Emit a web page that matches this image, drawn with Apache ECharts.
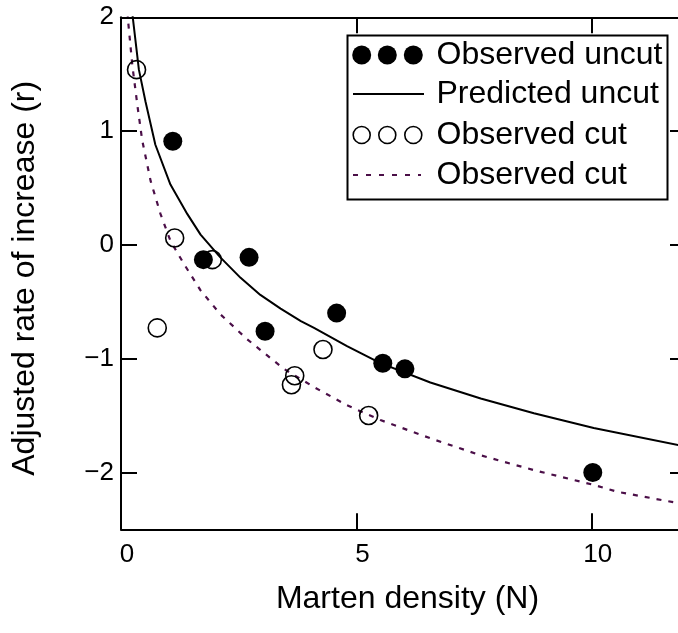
<!DOCTYPE html>
<html><head><meta charset="utf-8">
<script src="https://cdn.jsdelivr.net/npm/echarts@6/dist/echarts.min.js"></script>
<style>html,body{margin:0;padding:0;background:#fff;overflow:hidden}#c{width:678px;height:633px}</style>
</head><body><div id="c"></div>
<script>
const xTicks = [0, 5, 10];
const yTicks = [-2, -1, 0, 1, 2];
const xTitle = 'Marten density (N)';
const yTitle = 'Adjusted rate of increase (r)';
const seriesNames = ['Observed uncut', 'Predicted uncut', 'Observed cut', 'Observed cut'];
const uncutX = [1.10, 1.75, 2.72, 3.06, 4.58, 5.56, 6.03, 10.02];
const uncutY = [0.91, -0.13, -0.11, -0.76, -0.60, -1.04, -1.09, -2.00];
const cutX = [0.33, 0.77, 1.14, 1.94, 3.62, 3.69, 4.29, 5.26];
const cutY = [1.54, -0.73, 0.06, -0.13, -1.23, -1.15, -0.92, -1.50];
const predUncutX = [0.23, 0.25, 0.38, 0.52, 0.73, 1.05, 1.41, 1.69, 2.11, 2.54, 2.96, 3.39, 3.82, 4.10, 4.80, 5.51, 6.57, 7.64, 8.77, 10.04, 11.84, 12];
const predUncutY = [2.08, 2.00, 1.54, 1.26, 0.88, 0.53, 0.27, 0.09, -0.11, -0.29, -0.44, -0.56, -0.67, -0.73, -0.89, -1.04, -1.21, -1.35, -1.48, -1.61, -1.76, -1.78];
const predCutX = [0.14, 0.155, 0.24, 0.35, 0.45, 0.63, 0.84, 1.05, 1.34, 1.69, 2.11, 2.68, 3.46, 4.10, 4.80, 5.51, 6.57, 7.64, 8.77, 10.04, 10.54, 11.84, 12];
const predCutY = [2.05, 1.95, 1.58, 1.22, 0.92, 0.56, 0.27, 0.035, -0.17, -0.40, -0.61, -0.83, -1.09, -1.25, -1.41, -1.54, -1.70, -1.85, -1.98, -2.11, -2.17, -2.27, -2.28];

const FONT = '"Liberation Sans", Arial, Helvetica, sans-serif';
const DASH_COLOR = '#4b0f48';
const pair = (xs, ys) => xs.map((x, i) => [x, ys[i]]);
const fmt = v => String(v).replace('-', '\u2212');

const tick = (vals) => ({ show: true, inside: true, length: 16, lineStyle: { color: '#000', width: 2 }, customValues: vals });
const axLine = () => ({ show: true, onZero: false, lineStyle: { color: '#000', width: 2 } });

// legend (drawn as graphics)
const legendRowsY = [55, 94, 135, 175];
const legendCircleX = [361.7, 387.3, 413.3];
const legendGraphics = [
  { type: 'rect', z: 100, shape: { x: 347.5, y: 35.5, width: 320, height: 164 }, style: { fill: '#fff', stroke: '#000', lineWidth: 2 } }
];
legendCircleX.forEach(cx => {
  legendGraphics.push({ type: 'circle', z: 101, shape: { cx: cx, cy: legendRowsY[0], r: 9.5 }, style: { fill: '#000' } });
  legendGraphics.push({ type: 'circle', z: 101, shape: { cx: cx, cy: legendRowsY[2], r: 8.5 }, style: { fill: 'none', stroke: '#000', lineWidth: 1.6 } });
});
legendGraphics.push({ type: 'line', z: 101, shape: { x1: 353, y1: legendRowsY[1], x2: 424, y2: legendRowsY[1] }, style: { stroke: '#000', lineWidth: 2 } });
legendGraphics.push({ type: 'line', z: 101, shape: { x1: 353, y1: legendRowsY[3], x2: 421, y2: legendRowsY[3] }, style: { stroke: DASH_COLOR, lineWidth: 2, lineDash: [5, 8] } });
seriesNames.forEach((n, i) => {
  legendGraphics.push({ type: 'text', z: 101, style: { text: n, x: 436.5, y: legendRowsY[i], fontSize: 32, fontFamily: FONT, fill: '#000', align: 'left', verticalAlign: 'middle' } });
});

const chart = echarts.init(document.getElementById('c'), null, { renderer: 'canvas' });
chart.setOption({
  animation: false,
  grid: { left: 121, top: 17.3, width: 565, height: 512, show: false, containLabel: false, outerBoundsMode: 'none' },
  xAxis: [
    {
      type: 'value', min: 0, max: 12, position: 'bottom',
      axisLine: axLine(), splitLine: { show: false },
      axisTick: tick(xTicks),
      axisLabel: { customValues: xTicks, formatter: fmt, fontSize: 26, color: '#000', fontFamily: FONT, margin: 13, padding: [0, 0, 0, 12] },
      name: xTitle, nameLocation: 'middle', nameGap: 54,
      nameTextStyle: { fontSize: 32, color: '#000', fontFamily: FONT, padding: [0, 0, 0, 8] }
    },
    {
      type: 'value', min: 0, max: 12, position: 'top',
      axisLine: axLine(), splitLine: { show: false },
      axisTick: tick(xTicks), axisLabel: { show: false }
    }
  ],
  yAxis: [
    {
      type: 'value', min: -2.5, max: 2, position: 'left',
      axisLine: axLine(), splitLine: { show: false },
      axisTick: tick(yTicks),
      axisLabel: { customValues: yTicks, formatter: fmt, fontSize: 26, color: '#000', fontFamily: FONT, margin: 7, padding: [10, 0, 0, 0] },
      name: yTitle, nameLocation: 'middle', nameGap: 80,
      nameTextStyle: { fontSize: 32, color: '#000', fontFamily: FONT, padding: [0, 10, 0, 0] }
    },
    {
      type: 'value', min: -2.5, max: 2, position: 'right',
      axisLine: axLine(), splitLine: { show: false },
      axisTick: tick(yTicks), axisLabel: { show: false }
    }
  ],
  series: [
    { name: seriesNames[1], type: 'line', data: pair(predUncutX, predUncutY), symbol: 'none', clip: true, z: 2,
      lineStyle: { color: '#000', width: 2 } },
    { name: seriesNames[3], type: 'line', data: pair(predCutX, predCutY), symbol: 'none', clip: true, z: 2,
      lineStyle: { color: DASH_COLOR, width: 2.2, type: [5, 7] } },
    { name: seriesNames[0], type: 'scatter', data: pair(uncutX, uncutY), symbol: 'circle', symbolSize: 19, z: 3,
      itemStyle: { color: '#000', opacity: 1 } },
    { name: seriesNames[2], type: 'scatter', data: pair(cutX, cutY), symbol: 'circle', symbolSize: 18, z: 3,
      itemStyle: { color: 'rgba(0,0,0,0)', borderColor: '#000', borderWidth: 1.6, opacity: 1 } }
  ],
  graphic: legendGraphics
});
</script>
</body></html>
